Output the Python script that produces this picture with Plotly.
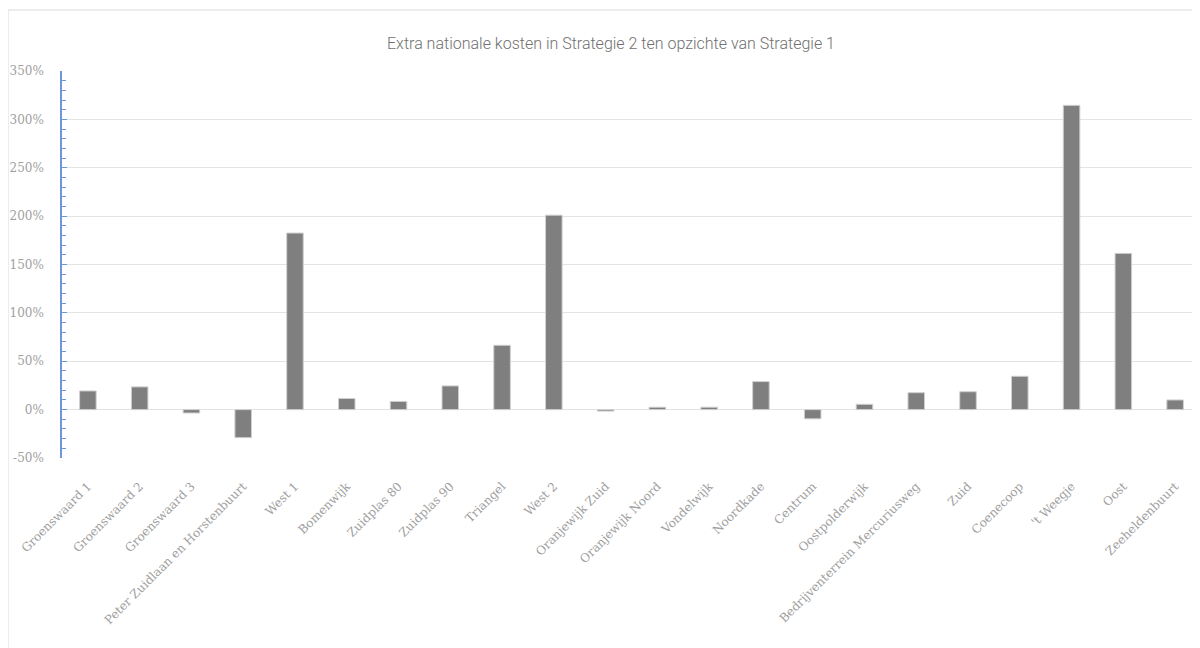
import plotly.graph_objects as go

categories = [
    "Groenswaard 1", "Groenswaard 2", "Groenswaard 3", "Peter Zuidlaan en Horstenbuurt",
    "West 1", "Bomenwijk", "Zuidplas 80", "Zuidplas 90", "Triangel", "West 2",
    "Oranjewijk Zuid", "Oranjewijk Noord", "Vondelwijk", "Noordkade", "Centrum",
    "Oostpolderwijk", "Bedrijventerrein Mercuriusweg", "Zuid", "Coenecoop",
    "'t Weegje", "Oost", "Zeeheldenbuurt",
]
values = [19.3, 23.5, -3.5, -29, 182.5, 11.5, 8.5, 24.5, 66.5, 201,
          -1.5, 2.5, 2.5, 29, -9.5, 5.5, 17.5, 18.5, 34.5, 314.5, 161.5, 10]
y_ticks = [-50, 0, 50, 100, 150, 200, 250, 300, 350]
y_tick_labels = [f"{v}%" for v in y_ticks]
title_text = "Extra nationale kosten in Strategie 2 ten opzichte van Strategie 1"

# page body adds an 8px offset
OFF = 8
W, H = 1200, 648
ml, mr, mt, mb = 62 - OFF, 7, 71 - OFF, 190 + OFF
pw, ph = W - ml - mr, H - mt - mb

FONT = "DejaVu Serif"

fig = go.Figure(go.Bar(
    x=categories, y=values,
    marker=dict(color="#7f7f7f", line=dict(color="#d0d0d0", width=1)),
))

fig.update_layout(
    width=W, height=H,
    margin=dict(l=ml, r=mr, t=mt, b=mb, autoexpand=False),
    paper_bgcolor="white", plot_bgcolor="white",
    bargap=0.68,
    showlegend=False,
    title=dict(text=title_text, x=(611 - OFF) / W, xanchor="center", xref="container",
               y=1 - (43 - OFF) / H, yanchor="middle", yref="container",
               font=dict(family="Roboto", size=16, color="#707070", weight=300)),
    font=dict(family=FONT, color="#a0a0a0"),
)

fig.update_xaxes(
    tickangle=-45, tickfont=dict(size=12, color="#a0a0a0", family=FONT),
    showgrid=False, showline=False, ticks="",
    ticklabelstandoff=18,
)
fig.update_yaxes(
    range=[-50, 350], tickmode="array", tickvals=y_ticks, ticktext=y_tick_labels,
    tickfont=dict(size=12, color="#a0a0a0", family=FONT),
    showgrid=True, gridcolor="#e3e3e3", gridwidth=1,
    zeroline=True, zerolinecolor="#e3e3e3", zerolinewidth=1,
    showline=True, linecolor="#6f98dc", linewidth=1.5,
    ticks="inside", ticklen=5, tickcolor="#6f98dc",
    minor=dict(dtick=10, ticks="inside", ticklen=4, tickcolor="#6f98dc"),
    ticklabelstandoff=14,
)

# outer chart border (extends off the right and bottom edges)
fig.add_shape(type="rect", xref="paper", yref="paper",
              x0=(8 - OFF - ml) / pw, x1=(W + 20 - ml) / pw,
              y0=-(H + 20 - mt - ph) / ph, y1=1 + (mt - (10 - OFF)) / ph,
              line=dict(color="#d9d9d9", width=1), fillcolor="rgba(0,0,0,0)",
              layer="below")

fig.write_html("out.html")
